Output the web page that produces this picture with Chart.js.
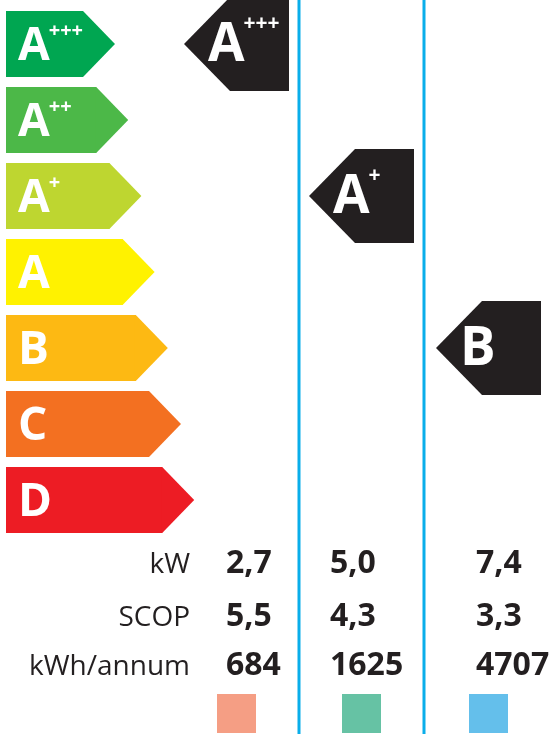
<!DOCTYPE html>
<html><head><meta charset="utf-8">
<script src="https://cdn.jsdelivr.net/npm/chart.js@4/dist/chart.umd.min.js"></script>
<style>html,body{margin:0;padding:0;background:#fff;overflow:hidden}#wrap{width:551px;height:734px;position:relative}</style>
</head><body><div id="wrap"><canvas id="c"></canvas></div>
<script>
// ---- data ----
const classes = ['A+++', 'A++', 'A+', 'A', 'B', 'C', 'D'];
const classColors = ['#00a651', '#4cb848', '#bed630', '#fff200', '#fdb913', '#f37021', '#ed1c24'];
const ratings = ['A+++', 'A+', 'B'];          // energy class of each model column
const kW = [2.7, 5.0, 7.4];
const scop = [5.5, 4.3, 3.3];
const kWhAnnum = [684, 1625, 4707];
const rowLabels = ['kW', 'SCOP', 'kWh/annum'];
const seriesColors = ['#f59e84', '#66c2a4', '#64bfeb'];

// ---- layout (styling, not data) ----
const X_MAX = 551;
const BAR_LEFT = 6, BAR_END0 = 83, BAR_STEP = 13.2, TIP = 32;
const COL_RIGHT = [299, 424, 551], COL_W = 125;
const PTR_BODY = 59, PTR_TIP = 46, PTR_GAP = 10;
const VALUE_X = [226, 330, 476];
const LABEL_RIGHT = 190;
const ROW_BASE = [35, 88, 137];     // offsets below plot bottom
const SW = 39, SW_TOP = 156;
const DARK = '#231f20', LINE = '#0aaeea';
const FAMILY = '"Open Sans", "DejaVu Sans", sans-serif';

const fmt = v => v.toFixed(1).replace('.', ',');
const tableRows = [kW.map(fmt), scop.map(fmt), kWhAnnum.map(v => String(v))];

const classBars = classes.map((c, i) => [BAR_LEFT, BAR_END0 + BAR_STEP * i]);
const pointerBars = classes.map(c => {
  const j = ratings.indexOf(c);
  if (j < 0) return null;
  const r = COL_RIGHT[j] - PTR_GAP;
  return [r - PTR_BODY, r];
});

function drawLabel(ctx, text, x, baseline, bigSize, supSize, supDy) {
  const base = text.replace(/\+/g, '');
  const sup = text.slice(base.length);
  ctx.fillStyle = '#ffffff';
  ctx.textAlign = 'left';
  ctx.textBaseline = 'alphabetic';
  ctx.font = 'bold ' + bigSize + 'px ' + FAMILY;
  ctx.fillText(base, x, baseline);
  const w = ctx.measureText(base).width;
  if (sup) {
    ctx.font = 'bold ' + supSize + 'px ' + FAMILY;
    ctx.textBaseline = 'middle';
    ctx.fillText(sup, x + w - 1, baseline + supDy);
    ctx.textBaseline = 'alphabetic';
  }
}

const energyPlugin = {
  id: 'energy',
  beforeDatasetsDraw(chart) {
    const ctx = chart.ctx, xs = chart.scales.x;
    ctx.save();
    ctx.strokeStyle = LINE;
    ctx.lineWidth = 3;
    [COL_RIGHT[0], COL_RIGHT[1]].forEach(v => {
      const px = xs.getPixelForValue(v);
      ctx.beginPath(); ctx.moveTo(px, 0); ctx.lineTo(px, chart.height); ctx.stroke();
    });
    ctx.restore();
  },
  afterDatasetsDraw(chart) {
    const ctx = chart.ctx;
    ctx.save();
    chart.getDatasetMeta(0).data.forEach((bar, i) => {
      const p = bar.getProps(['x', 'y', 'base', 'height'], true);
      const h = p.height / 2;
      ctx.fillStyle = classColors[i];
      ctx.beginPath();
      ctx.moveTo(p.x - 1, p.y - h);
      ctx.lineTo(p.x, p.y - h);
      ctx.lineTo(p.x + TIP, p.y);
      ctx.lineTo(p.x, p.y + h);
      ctx.lineTo(p.x - 1, p.y + h);
      ctx.closePath(); ctx.fill();
      drawLabel(ctx, classes[i], p.base + 12, p.y + 16, 46, 20, -29);
    });
    chart.getDatasetMeta(1).data.forEach((bar, i) => {
      if (pointerBars[i] == null) return;
      const p = bar.getProps(['x', 'y', 'base', 'height'], true);
      const h = p.height / 2;
      ctx.fillStyle = DARK;
      ctx.beginPath();
      ctx.moveTo(p.base + 1, p.y - h);
      ctx.lineTo(p.base, p.y - h);
      ctx.lineTo(p.base - PTR_TIP, p.y);
      ctx.lineTo(p.base, p.y + h);
      ctx.lineTo(p.base + 1, p.y + h);
      ctx.closePath(); ctx.fill();
      drawLabel(ctx, classes[i], p.base - PTR_TIP + 24, p.y + 17, 53, 21, -37);
    });
    ctx.restore();
  },
  afterDraw(chart) {
    const ctx = chart.ctx, xs = chart.scales.x, bottom = chart.chartArea.bottom;
    ctx.save();
    ctx.fillStyle = DARK;
    ctx.textBaseline = 'alphabetic';
    rowLabels.forEach((lab, r) => {
      const y = bottom + ROW_BASE[r];
      ctx.font = '28px ' + FAMILY;
      ctx.textAlign = 'right';
      ctx.fillText(lab, xs.getPixelForValue(LABEL_RIGHT), y);
      ctx.font = 'bold 32px ' + FAMILY;
      ctx.textAlign = 'left';
      tableRows[r].forEach((v, j) => ctx.fillText(v, xs.getPixelForValue(VALUE_X[j]), y));
    });
    seriesColors.forEach((c, j) => {
      const cx = xs.getPixelForValue(COL_RIGHT[j] - COL_W / 2);
      ctx.fillStyle = c;
      ctx.fillRect(Math.round(cx - SW / 2), bottom + SW_TOP, SW, SW);
    });
    ctx.restore();
  }
};

Chart.defaults.font.family = FAMILY;
new Chart(document.getElementById('c'), {
  type: 'bar',
  data: {
    labels: classes,
    datasets: [
      { data: classBars, backgroundColor: classColors, barThickness: 66, grouped: false, borderWidth: 0, inflateAmount: 0, clip: false },
      { data: pointerBars, backgroundColor: DARK, barThickness: 94, grouped: false, borderWidth: 0, inflateAmount: 0, clip: false }
    ]
  },
  options: {
    indexAxis: 'y',
    responsive: true,
    maintainAspectRatio: false,
    devicePixelRatio: 1,
    animation: false,
    events: [],
    layout: { padding: { top: 6, bottom: 196, left: 0, right: 0 } },
    scales: {
      x: { type: 'linear', min: 0, max: X_MAX, display: false },
      y: { type: 'category', display: false, offset: true }
    },
    plugins: { legend: { display: false }, tooltip: { enabled: false } }
  },
  plugins: [energyPlugin]
});
</script></body></html>
